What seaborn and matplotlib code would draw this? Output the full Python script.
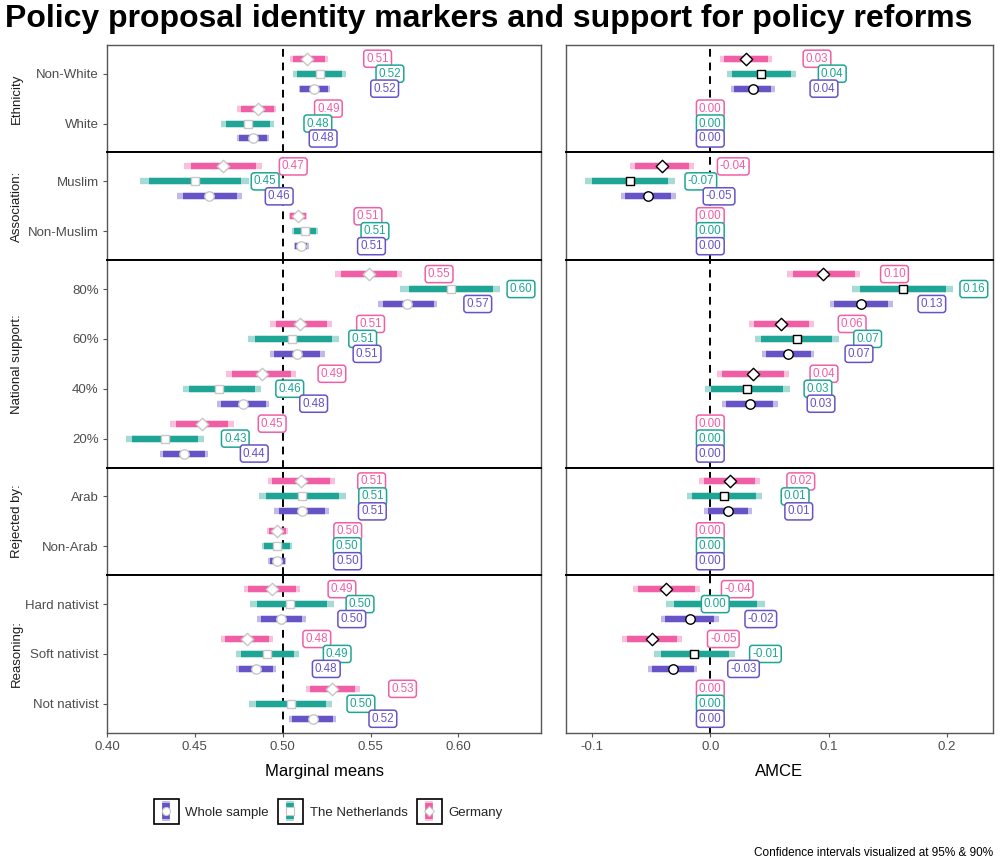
import numpy as np
import pandas as pd
import seaborn as sns
import matplotlib
matplotlib.use("Agg")
import matplotlib.pyplot as plt
from matplotlib.lines import Line2D
from matplotlib.legend_handler import HandlerTuple

# facets and their levels (top to bottom)
facets = ["Ethnicity", "Association:", "National support:", "Rejected by:", "Reasoning:"]
levels = [["Non-White", "White"],
          ["Muslim", "Non-Muslim"],
          ["80%", "60%", "40%", "20%"],
          ["Arab", "Non-Arab"],
          ["Hard nativist", "Soft nativist", "Not nativist"]]

# (lo95, lo90, estimate, hi90, hi95) per level, same order as levels
mm_germany = [(0.504, 0.506, 0.514, 0.524, 0.526), (0.474, 0.476, 0.486, 0.495, 0.496),
              (0.444, 0.448, 0.466, 0.485, 0.488), (0.5035, 0.504, 0.5085, 0.513, 0.514),
              (0.530, 0.533, 0.549, 0.565, 0.568), (0.493, 0.496, 0.510, 0.525, 0.528),
              (0.468, 0.471, 0.488, 0.5045, 0.5075), (0.436, 0.439, 0.454, 0.469, 0.472),
              (0.4915, 0.494, 0.5106, 0.527, 0.530), (0.491, 0.492, 0.497, 0.502, 0.503),
              (0.478, 0.480, 0.4937, 0.5075, 0.510), (0.4647, 0.4673, 0.4794, 0.492, 0.4945),
              (0.513, 0.5154, 0.5282, 0.541, 0.5437)]
mm_netherlands = [(0.506, 0.508, 0.521, 0.534, 0.536), (0.465, 0.468, 0.480, 0.493, 0.495),
                  (0.419, 0.424, 0.450, 0.476, 0.481), (0.5055, 0.5065, 0.5125, 0.519, 0.520),
                  (0.567, 0.5717, 0.5956, 0.6195, 0.6235), (0.480, 0.484, 0.5055, 0.528, 0.532),
                  (0.443, 0.4466, 0.464, 0.4844, 0.4876), (0.4109, 0.4145, 0.433, 0.452, 0.4553),
                  (0.4864, 0.4905, 0.5112, 0.532, 0.536), (0.4884, 0.4896, 0.4967, 0.5039, 0.5051),
                  (0.4814, 0.4852, 0.504, 0.5254, 0.529), (0.4734, 0.4762, 0.491, 0.5065, 0.509),
                  (0.481, 0.4848, 0.5045, 0.5246, 0.5282)]
mm_whole = [(0.509, 0.510, 0.518, 0.526, 0.527), (0.474, 0.475, 0.483, 0.491, 0.492),
            (0.440, 0.443, 0.458, 0.474, 0.477), (0.5065, 0.507, 0.5105, 0.514, 0.515),
            (0.554, 0.557, 0.571, 0.586, 0.588), (0.493, 0.495, 0.508, 0.521, 0.524),
            (0.4625, 0.4647, 0.4776, 0.4903, 0.4923), (0.430, 0.432, 0.4438, 0.4559, 0.4577),
            (0.4953, 0.4977, 0.511, 0.524, 0.5264), (0.4918, 0.4927, 0.4969, 0.5011, 0.502),
            (0.4852, 0.4874, 0.4993, 0.511, 0.5134), (0.4736, 0.4754, 0.4848, 0.4947, 0.4963),
            (0.5033, 0.5055, 0.517, 0.5284, 0.5305)]

REF = (0, 0, 0, 0, 0)  # reference category
amce_germany = [(0.0081, 0.0117, 0.0302, 0.049, 0.0523), REF,
                (-0.068, -0.0635, -0.0406, -0.0176, -0.0134), REF,
                (0.0646, 0.0697, 0.0957, 0.122, 0.1267), (0.0324, 0.0366, 0.0599, 0.0831, 0.0876),
                (0.0053, 0.0098, 0.0361, 0.0621, 0.0666), REF,
                (-0.0092, -0.005, 0.0165, 0.038, 0.0422), REF,
                (-0.0652, -0.0607, -0.0372, -0.0129, -0.0087), (-0.0747, -0.0708, -0.049, -0.028, -0.0235),
                REF]
amce_netherlands = [(0.014, 0.0182, 0.0431, 0.068, 0.0724), REF,
                    (-0.106, -0.1004, -0.068, -0.0355, -0.030), REF,
                    (0.120, 0.1264, 0.1628, 0.1989, 0.2056), (0.0375, 0.0428, 0.073, 0.1032, 0.1085),
                    (-0.0048, 0.0006, 0.031, 0.0618, 0.0671), REF,
                    (-0.0196, -0.0151, 0.0117, 0.0386, 0.0436), REF,
                    (-0.0372, -0.031, 0.0042, 0.0397, 0.0462), (-0.0473, -0.042, -0.0134, 0.0154, 0.021),
                    REF]
amce_whole = [(0.0179, 0.0204, 0.0361, 0.0517, 0.0548), REF,
              (-0.0758, -0.0722, -0.0526, -0.033, -0.0294), REF,
              (0.1013, 0.1046, 0.1273, 0.1499, 0.1541), (0.0439, 0.0473, 0.0657, 0.0848, 0.0878),
              (0.010, 0.0134, 0.0336, 0.0534, 0.057), REF,
              (-0.0053, -0.0022, 0.0148, 0.0319, 0.035), REF,
              (-0.042, -0.0383, -0.0173, 0.0034, 0.0076), (-0.0529, -0.0495, -0.0319, -0.014, -0.0109),
              REF]

mm_ticks = [0.40, 0.45, 0.50, 0.55, 0.60]
amce_ticks = [-0.1, 0.0, 0.1, 0.2]

PINK = "#F05FA5"
TEAL = "#1EA595"
PURPLE = "#6653C6"

# name, mm data, amce data, colour, marker, size, vertical dodge
groups = [("Germany", mm_germany, amce_germany, PINK, "D", 40, -0.3),
          ("The Netherlands", mm_netherlands, amce_netherlands, TEAL, "s", 36, 0.0),
          ("Whole sample", mm_whole, amce_whole, PURPLE, "o", 46, 0.3)]

sns.set_theme(style="white")
plt.rcParams['font.family'] = ['Liberation Sans', 'DejaVu Sans']

fig = plt.figure(figsize=(10, 8.61), dpi=100)
gs = fig.add_gridspec(5, 2, left=0.107, right=0.993, top=0.948, bottom=0.149,
                      hspace=0, wspace=0.058,
                      height_ratios=[len(l) + 0.16 for l in levels],
                      width_ratios=[434, 427])

panels = [
    dict(ref=0.5, xlim=(0.40, 0.647), ticks=mm_ticks, fmt="{:.2f}", shift=0.04, edge="#C8C8C8", xlabel="Marginal means"),
    dict(ref=0.0, xlim=(-0.122, 0.239), ticks=amce_ticks, fmt="{:.1f}", shift=0.06, edge="black", xlabel="AMCE"),
]

start = 0
for r, (facet, lv) in enumerate(zip(facets, levels)):
    n = len(lv)
    for c, p in enumerate(panels):
        ax = fig.add_subplot(gs[r, c])
        ax.axvline(p["ref"], color="black", ls=(0, (4, 3)), lw=1.4, zorder=1)
        for name, mm, amce, col, mk, size, dy in groups:
            rows = (mm if c == 0 else amce)[start:start + n]
            df = pd.DataFrame(rows, columns=["lo95", "lo90", "est", "hi90", "hi95"])
            df["y"] = np.arange(n) + dy
            ci = df[df["hi95"] > df["lo95"]]
            ax.hlines(ci["y"], ci["lo95"], ci["hi95"], color=col, alpha=0.4, lw=4.6, zorder=2)
            ax.hlines(ci["y"], ci["lo90"], ci["hi90"], color=col, lw=4.6, zorder=3)
            sns.scatterplot(data=ci, x="est", y="y", ax=ax, marker=mk, s=size, color="white",
                            edgecolor=p["edge"], linewidth=1.0, zorder=4, legend=False)
            for _, row in df.iterrows():
                txt = f"{row['est']:.2f}"
                # AMCE labels that round to zero sit on the estimate itself
                lx = row["est"] if txt == "0.00" and c == 1 else row["est"] + p["shift"]
                ax.text(lx, row["y"], txt, ha="center", va="center", fontsize=8.4, color=col, zorder=5,
                        bbox=dict(boxstyle="round,pad=0.22,rounding_size=0.25", fc="white", ec=col, lw=1.1))
        ax.set_xlim(*p["xlim"])
        ax.set_ylim(n - 1 + 0.58, -0.58)
        ax.set_xticks(p["ticks"])
        ax.set_xticklabels([p["fmt"].format(t) for t in p["ticks"]])
        ax.set_xlabel("")
        ax.set_ylabel("")
        for s in ax.spines.values():
            s.set_color("#555555")
            s.set_linewidth(1.0)
        if r > 0:
            ax.spines["top"].set_color("black")
            ax.spines["top"].set_linewidth(1.4)
        if r < len(facets) - 1:
            ax.spines["bottom"].set_color("black")
            ax.spines["bottom"].set_linewidth(1.4)
            ax.tick_params(axis="x", bottom=False, labelbottom=False)
        else:
            ax.tick_params(axis="x", bottom=True, length=3, width=0.8, color="#555555",
                           labelsize=9.5, labelcolor="#4D4D4D", pad=3)
            ax.set_xlabel(p["xlabel"], fontsize=12, color="black", labelpad=8)
        if c == 0:
            ax.set_yticks(range(n))
            ax.set_yticklabels(lv)
            ax.tick_params(axis="y", left=True, length=3, width=0.8, color="#555555",
                           labelsize=9.5, labelcolor="#4D4D4D", pad=3)
            pos = ax.get_position()
            fig.text(0.017, (pos.y0 + pos.y1) / 2, facet, rotation=90, ha="center", va="center",
                     fontsize=9.5, color="#1A1A1A")
        else:
            ax.set_yticks([])
    start += n

fig.suptitle("Policy proposal identity markers and support for policy reforms",
             x=0.005, y=0.995, ha="left", va="top", fontsize=23, fontweight="bold", color="black")

# legend keys: box, light bar, dark bar, marker
handles = []
names = []
for name, mm, amce, col, mk, size, dy in groups[::-1]:
    box = Line2D([], [], marker="s", ms=18, mfc="white", mec="black", mew=1.2, ls="")
    bar_l = Line2D([], [], marker="|", ms=15, mew=5.5, color=col, alpha=0.4, ls="")
    bar_d = Line2D([], [], marker="|", ms=11, mew=5.5, color=col, ls="")
    dot = Line2D([], [], marker=mk, ms=np.sqrt(size) * 0.85, mfc="white", mec="#C8C8C8", mew=0.8, ls="")
    handles.append((box, bar_l, bar_d, dot))
    names.append(name)
fig.legend(handles, names, handler_map={tuple: HandlerTuple(ndivide=1, pad=0)},
           loc="center", bbox_to_anchor=(0.329, 0.056), ncol=3, frameon=False,
           fontsize=9.5, handlelength=1.6, handletextpad=0.7, columnspacing=0.8)

fig.text(0.993, 0.009, "Confidence intervals visualized at 95% & 90%", ha="right", va="center",
         fontsize=8.5, color="black")

fig.savefig("out.png", dpi=100)
